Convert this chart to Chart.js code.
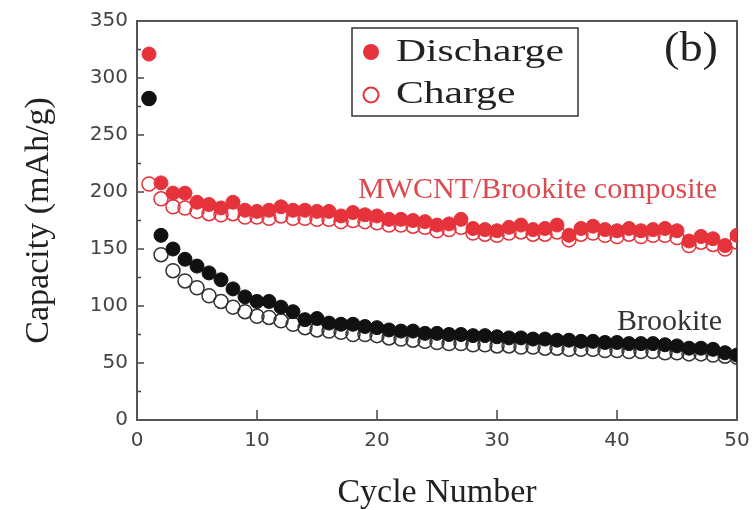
<!DOCTYPE html>
<html>
<head>
<meta charset="utf-8">
<script src="https://cdn.jsdelivr.net/npm/chart.js@4.4.1/dist/chart.umd.min.js"></script>
<style>
  body { margin: 0; background: #fff; }
  #wrap { width: 754px; height: 510px; }
</style>
</head>
<body>
<div id="wrap"><canvas id="cap-chart" width="754" height="510"></canvas></div>
<script>
// cycle numbers (x)
const cycles = [1,2,3,4,5,6,7,8,9,10,11,12,13,14,15,16,17,18,19,20,21,22,23,24,25,
  26,27,28,29,30,31,32,33,34,35,36,37,38,39,40,41,42,43,44,45,46,47,48,49,50];

// MWCNT/Brookite composite (mAh/g)
const compDischarge = [321,208,199,199,191,189,186,191,184,183,184,187,184,184,183,183,179,182,180,179,
  176,176,175,174,171,172,176,168,167,166,169,171,167,168,171,162,168,170,167,166,
  168,166,167,168,166,157,161,159,153,162];
const compCharge = [207,194,187,186,183,181,180,181,178,178,177,179,177,177,176,176,174,175,174,173,
  171,171,170,169,166,167,169,164,163,162,164,165,163,163,165,158,163,164,162,161,
  163,161,162,162,160,153,156,154,150,156];

// Brookite (mAh/g)
const brkDischarge = [282,162,150,141,135,129,123,115,108,104,104,99,95,88,89,85,84,84,82,81,
  79,78,78,76,76,75,75,74,74,73,72,72,71,71,70,70,69,69,68,68,
  67,67,67,66,65,63,63,62,59,57];
const brkCharge = [282,145,131,122,116,109,104,99,95,91,90,87,84,81,79,78,77,75,75,74,
  72,71,70,69,68,67,67,66,66,65,65,64,64,63,63,62,62,62,61,61,
  60,60,60,59,59,58,58,57,56,55];

const xTicks = [0, 10, 20, 30, 40, 50];
const yTicks = [0, 50, 100, 150, 200, 250, 300, 350];

const RED = '#e6333b';
const BLACK = '#111111';
const SERIF = "'Liberation Serif', 'Times New Roman', serif";

function pts(ys) {
  return cycles.map((c, i) => ({ x: c, y: ys[i] }));
}

function stretchText(ctx, text, x, y, sx) {
  ctx.save();
  ctx.translate(x, y);
  ctx.scale(sx, 1);
  ctx.fillText(text, 0, 0);
  ctx.restore();
}

// frame, inside ticks, legend box and labels
const decor = {
  id: 'decor',
  beforeDatasetsDraw(chart) {
    const { ctx, chartArea: a, scales } = chart;
    ctx.save();
    ctx.strokeStyle = '#444';
    ctx.lineWidth = 1.5;
    for (let v = 0; v <= 350; v += 25) {
      const py = scales.y.getPixelForValue(v);
      const len = yTicks.includes(v) ? 7 : 4;
      ctx.beginPath();
      ctx.moveTo(a.left, py);
      ctx.lineTo(a.left + len, py);
      ctx.stroke();
    }
    xTicks.forEach(v => {
      const px = scales.x.getPixelForValue(v);
      ctx.beginPath();
      ctx.moveTo(px, a.bottom);
      ctx.lineTo(px, a.bottom - 10);
      ctx.stroke();
    });
    ctx.strokeStyle = '#555';
    ctx.lineWidth = 2;
    ctx.strokeRect(a.left, a.top, a.right - a.left, a.bottom - a.top);
    ctx.restore();
  },
  afterDraw(chart) {
    const ctx = chart.ctx;
    ctx.save();
    // legend
    ctx.strokeStyle = '#333';
    ctx.lineWidth = 1.5;
    ctx.strokeRect(352, 28, 226, 88);
    ctx.fillStyle = RED;
    ctx.beginPath();
    ctx.arc(371, 52, 8, 0, Math.PI * 2);
    ctx.fill();
    ctx.strokeStyle = RED;
    ctx.lineWidth = 2;
    ctx.beginPath();
    ctx.arc(371, 95, 7.5, 0, Math.PI * 2);
    ctx.stroke();
    ctx.fillStyle = '#222';
    ctx.textBaseline = 'middle';
    ctx.font = '32px ' + SERIF;
    stretchText(ctx, chart.data.datasets[0].label, 396, 53, 1.3);
    stretchText(ctx, chart.data.datasets[1].label, 396, 95, 1.3);
    // panel mark
    ctx.font = '42px ' + SERIF;
    stretchText(ctx, '(b)', 664, 50, 1.1);
    // series labels
    ctx.font = '30px ' + SERIF;
    ctx.fillStyle = '#dc4a50';
    ctx.fillText('MWCNT/Brookite composite', 358, 190);
    ctx.fillStyle = '#333';
    ctx.textAlign = 'right';
    ctx.fillText('Brookite', 722, 322);
    ctx.restore();
  }
};

const ctx = document.getElementById('cap-chart').getContext('2d');

new Chart(ctx, {
  type: 'scatter',
  data: {
    datasets: [
      {
        label: 'Discharge',
        data: pts(compDischarge),
        backgroundColor: RED,
        borderColor: RED,
        borderWidth: 1,
        pointRadius: 7,
        order: 1,
        clip: 0
      },
      {
        label: 'Charge',
        data: pts(compCharge),
        backgroundColor: 'rgba(0,0,0,0)',
        borderColor: RED,
        borderWidth: 1.5,
        pointRadius: 7,
        order: 2,
        clip: 0
      },
      {
        label: 'Brookite discharge',
        data: pts(brkDischarge),
        backgroundColor: BLACK,
        borderColor: BLACK,
        borderWidth: 1,
        pointRadius: 7,
        order: 1,
        clip: 0
      },
      {
        label: 'Brookite charge',
        data: pts(brkCharge),
        backgroundColor: 'rgba(0,0,0,0)',
        borderColor: '#333',
        borderWidth: 1.5,
        pointRadius: 7,
        order: 2,
        clip: 0
      }
    ]
  },
  options: {
    responsive: false,
    animation: false,
    events: [],
    layout: { padding: { left: 0, right: 17, top: 20, bottom: 0 } },
    plugins: {
      legend: { display: false },
      tooltip: { enabled: false }
    },
    scales: {
      x: {
        type: 'linear',
        min: 0,
        max: 50,
        grid: { display: false, drawTicks: false },
        border: { display: false },
        afterBuildTicks: s => { s.ticks = xTicks.map(v => ({ value: v })); },
        afterFit: s => { s.height = 90; s.paddingLeft = 0; s.paddingRight = 0; },
        ticks: {
          padding: 9,
          color: '#444',
          autoSkip: false,
          maxRotation: 0,
          font: { family: "'DejaVu Sans'", size: 20 }
        },
        title: {
          display: true,
          text: 'Cycle Number',
          color: '#222',
          padding: { top: 0, bottom: 0 },
          font: { family: SERIF, size: 34, lineHeight: 1 }
        }
      },
      y: {
        min: 0,
        max: 350,
        grid: { display: false, drawTicks: false },
        border: { display: false },
        afterBuildTicks: s => { s.ticks = yTicks.map(v => ({ value: v })); },
        afterFit: s => { s.width = 137; },
        ticks: {
          padding: 9,
          color: '#444',
          autoSkip: false,
          font: { family: "'DejaVu Sans'", size: 20 }
        },
        title: {
          display: true,
          text: 'Capacity (mAh/g)',
          color: '#222',
          padding: { top: 22, bottom: 0 },
          font: { family: SERIF, size: 34, lineHeight: 1 }
        }
      }
    }
  },
  plugins: [decor]
});
</script>
</body>
</html>
